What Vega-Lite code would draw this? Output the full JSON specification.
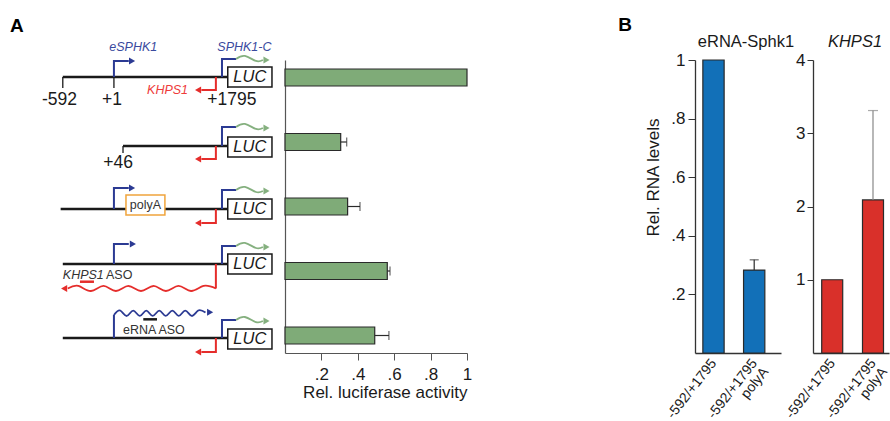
{
  "$schema": "https://vega.github.io/schema/vega-lite/v6.json",
  "padding": {"left": 10, "top": 16, "right": 0, "bottom": 0},
  "bounds": "flush",
  "spacing": 32,
  "config": {
    "font": "Liberation Sans",
    "view": {"stroke": null},
    "axis": {"grid": false, "labelColor": "#1a1a1a", "titleColor": "#1a1a1a", "labelFlush": false},
    "title": {"color": "#1a1a1a", "frame": "group"}
  },
  "datasets": {
    "hlines": [
      {"x": 0, "x2": 100, "y": 0.992, "c": "black"},
      {"x": 36.5, "x2": 100, "y": 2.062, "c": "black"},
      {"x": -1.3, "x2": 100, "y": 3.039, "c": "black"},
      {"x": 0, "x2": 100, "y": 3.891, "c": "black"},
      {"x": 0, "x2": 100, "y": 5.039, "c": "black"},
      {"x": 10.4, "x2": 18.9, "y": 4.166, "c": "red"},
      {"x": 48.8, "x2": 57.1, "y": 4.749, "c": "black"}
    ],
    "vticks": [
      {"x": 0, "y": 0.992, "y2": 1.163},
      {"x": 31, "y": 0.992, "y2": 1.163},
      {"x": 100, "y": 0.992, "y2": 1.163},
      {"x": 36.5, "y": 2.062, "y2": 2.171}
    ],
    "paths": [
      {"id": "b1", "o": 1, "x": 31, "y": 0.992, "c": "blue"},
      {"id": "b1", "o": 2, "x": 31, "y": 0.744, "c": "blue"},
      {"id": "b1", "o": 3, "x": 40, "y": 0.744, "c": "blue"},
      {"id": "s1", "o": 1, "x": 96.5, "y": 0.992, "c": "blue"},
      {"id": "s1", "o": 2, "x": 96.5, "y": 0.713, "c": "blue"},
      {"id": "s1", "o": 3, "x": 105, "y": 0.713, "c": "blue"},
      {"id": "k1", "o": 1, "x": 92.8, "y": 0.992, "c": "red"},
      {"id": "k1", "o": 2, "x": 92.8, "y": 1.194, "c": "red"},
      {"id": "k1", "o": 3, "x": 84, "y": 1.194, "c": "red"},
      {"id": "s2", "o": 1, "x": 96.5, "y": 2.062, "c": "blue"},
      {"id": "s2", "o": 2, "x": 96.5, "y": 1.767, "c": "blue"},
      {"id": "s2", "o": 3, "x": 105, "y": 1.767, "c": "blue"},
      {"id": "k2", "o": 1, "x": 92.8, "y": 2.062, "c": "red"},
      {"id": "k2", "o": 2, "x": 92.8, "y": 2.264, "c": "red"},
      {"id": "k2", "o": 3, "x": 84, "y": 2.264, "c": "red"},
      {"id": "b3", "o": 1, "x": 31, "y": 3.039, "c": "blue"},
      {"id": "b3", "o": 2, "x": 31, "y": 2.713, "c": "blue"},
      {"id": "b3", "o": 3, "x": 40, "y": 2.713, "c": "blue"},
      {"id": "s3", "o": 1, "x": 96.5, "y": 3.039, "c": "blue"},
      {"id": "s3", "o": 2, "x": 96.5, "y": 2.744, "c": "blue"},
      {"id": "s3", "o": 3, "x": 105, "y": 2.744, "c": "blue"},
      {"id": "k3", "o": 1, "x": 92.8, "y": 3.039, "c": "red"},
      {"id": "k3", "o": 2, "x": 92.8, "y": 3.256, "c": "red"},
      {"id": "k3", "o": 3, "x": 84, "y": 3.256, "c": "red"},
      {"id": "b4", "o": 1, "x": 31, "y": 3.891, "c": "blue"},
      {"id": "b4", "o": 2, "x": 31, "y": 3.581, "c": "blue"},
      {"id": "b4", "o": 3, "x": 40, "y": 3.581, "c": "blue"},
      {"id": "s4", "o": 1, "x": 96.5, "y": 3.891, "c": "blue"},
      {"id": "s4", "o": 2, "x": 96.5, "y": 3.612, "c": "blue"},
      {"id": "s4", "o": 3, "x": 105, "y": 3.612, "c": "blue"},
      {"id": "k4", "o": 1, "x": 92.8, "y": 3.891, "c": "red"},
      {"id": "k4", "o": 2, "x": 92.8, "y": 4.271, "c": "red"},
      {"id": "b5", "o": 1, "x": 31, "y": 5.039, "c": "blue"},
      {"id": "b5", "o": 2, "x": 31, "y": 4.682, "c": "blue"},
      {"id": "s5", "o": 1, "x": 96.5, "y": 5.039, "c": "blue"},
      {"id": "s5", "o": 2, "x": 96.5, "y": 4.76, "c": "blue"},
      {"id": "s5", "o": 3, "x": 105, "y": 4.76, "c": "blue"},
      {"id": "k5", "o": 1, "x": 92.8, "y": 5.039, "c": "red"},
      {"id": "k5", "o": 2, "x": 92.8, "y": 5.256, "c": "red"},
      {"id": "k5", "o": 3, "x": 84, "y": 5.256, "c": "red"}
    ],
    "waves": [
      {"id": "g1", "o": 1, "x": 105, "y": 0.713, "c": "green"},
      {"id": "g1", "o": 2, "x": 110.4, "y": 0.666, "c": "green"},
      {"id": "g1", "o": 3, "x": 117.1, "y": 0.744, "c": "green"},
      {"id": "g1", "o": 4, "x": 121.3, "y": 0.729, "c": "green"},
      {"id": "g2", "o": 1, "x": 105, "y": 1.767, "c": "green"},
      {"id": "g2", "o": 2, "x": 110.4, "y": 1.72, "c": "green"},
      {"id": "g2", "o": 3, "x": 117.1, "y": 1.798, "c": "green"},
      {"id": "g2", "o": 4, "x": 121.3, "y": 1.783, "c": "green"},
      {"id": "g3", "o": 1, "x": 105, "y": 2.744, "c": "green"},
      {"id": "g3", "o": 2, "x": 110.4, "y": 2.697, "c": "green"},
      {"id": "g3", "o": 3, "x": 117.1, "y": 2.775, "c": "green"},
      {"id": "g3", "o": 4, "x": 121.3, "y": 2.76, "c": "green"},
      {"id": "g4", "o": 1, "x": 105, "y": 3.612, "c": "green"},
      {"id": "g4", "o": 2, "x": 110.4, "y": 3.565, "c": "green"},
      {"id": "g4", "o": 3, "x": 117.1, "y": 3.643, "c": "green"},
      {"id": "g4", "o": 4, "x": 121.3, "y": 3.628, "c": "green"},
      {"id": "g5", "o": 1, "x": 105, "y": 4.76, "c": "green"},
      {"id": "g5", "o": 2, "x": 110.4, "y": 4.713, "c": "green"},
      {"id": "g5", "o": 3, "x": 117.1, "y": 4.791, "c": "green"},
      {"id": "g5", "o": 4, "x": 121.3, "y": 4.776, "c": "green"},
      {"id": "rw", "o": 1, "x": 92.8, "y": 4.271, "c": "red"},
      {"id": "rw", "o": 2, "x": 85.3, "y": 4.232, "c": "red"},
      {"id": "rw", "o": 3, "x": 77.7, "y": 4.31, "c": "red"},
      {"id": "rw", "o": 4, "x": 70.1, "y": 4.232, "c": "red"},
      {"id": "rw", "o": 5, "x": 62.5, "y": 4.31, "c": "red"},
      {"id": "rw", "o": 6, "x": 55.0, "y": 4.232, "c": "red"},
      {"id": "rw", "o": 7, "x": 47.4, "y": 4.31, "c": "red"},
      {"id": "rw", "o": 8, "x": 39.8, "y": 4.232, "c": "red"},
      {"id": "rw", "o": 9, "x": 32.2, "y": 4.31, "c": "red"},
      {"id": "rw", "o": 10, "x": 24.7, "y": 4.232, "c": "red"},
      {"id": "rw", "o": 11, "x": 17.1, "y": 4.31, "c": "red"},
      {"id": "rw", "o": 12, "x": 9.5, "y": 4.232, "c": "red"},
      {"id": "rw", "o": 13, "x": 3.0, "y": 4.271, "c": "red"},
      {"id": "bw", "o": 1, "x": 31, "y": 4.682, "c": "blue"},
      {"id": "bw", "o": 2, "x": 34.8, "y": 4.613, "c": "blue"},
      {"id": "bw", "o": 3, "x": 38.8, "y": 4.697, "c": "blue"},
      {"id": "bw", "o": 4, "x": 42.7, "y": 4.613, "c": "blue"},
      {"id": "bw", "o": 5, "x": 46.7, "y": 4.697, "c": "blue"},
      {"id": "bw", "o": 6, "x": 50.6, "y": 4.613, "c": "blue"},
      {"id": "bw", "o": 7, "x": 54.5, "y": 4.697, "c": "blue"},
      {"id": "bw", "o": 8, "x": 58.5, "y": 4.613, "c": "blue"},
      {"id": "bw", "o": 9, "x": 62.4, "y": 4.697, "c": "blue"},
      {"id": "bw", "o": 10, "x": 66.4, "y": 4.613, "c": "blue"},
      {"id": "bw", "o": 11, "x": 70.3, "y": 4.697, "c": "blue"},
      {"id": "bw", "o": 12, "x": 74.2, "y": 4.613, "c": "blue"},
      {"id": "bw", "o": 13, "x": 78.2, "y": 4.697, "c": "blue"},
      {"id": "bw", "o": 14, "x": 82.1, "y": 4.613, "c": "blue"},
      {"id": "bw", "o": 15, "x": 86.5, "y": 4.645, "c": "blue"}
    ],
    "heads": [
      {"x": 42, "y": 0.744, "c": "blue", "dir": "right"},
      {"x": 42, "y": 2.713, "c": "blue", "dir": "right"},
      {"x": 42.5, "y": 3.581, "c": "blue", "dir": "right"},
      {"x": 89.3, "y": 4.64, "c": "blue", "dir": "right"},
      {"x": 123.5, "y": 0.729, "c": "green", "dir": "right"},
      {"x": 123.5, "y": 1.783, "c": "green", "dir": "right"},
      {"x": 123.5, "y": 2.76, "c": "green", "dir": "right"},
      {"x": 123.5, "y": 3.628, "c": "green", "dir": "right"},
      {"x": 123.5, "y": 4.776, "c": "green", "dir": "right"},
      {"x": 82, "y": 1.194, "c": "red", "dir": "left"},
      {"x": 82, "y": 2.264, "c": "red", "dir": "left"},
      {"x": 82, "y": 3.256, "c": "red", "dir": "left"},
      {"x": 82, "y": 5.256, "c": "red", "dir": "left"},
      {"x": 0.8, "y": 4.271, "c": "red", "dir": "left"}
    ],
    "boxes": [
      {"x": 100, "x2": 126.8, "y": 0.837, "y2": 1.147, "c": "black"},
      {"x": 100, "x2": 126.8, "y": 1.922, "y2": 2.233, "c": "black"},
      {"x": 100, "x2": 126.8, "y": 2.884, "y2": 3.195, "c": "black"},
      {"x": 100, "x2": 126.8, "y": 3.736, "y2": 4.047, "c": "black"},
      {"x": 100, "x2": 126.8, "y": 4.899, "y2": 5.209, "c": "black"},
      {"x": 38.3, "x2": 61.9, "y": 2.822, "y2": 3.132, "c": "orange"}
    ],
    "coords": [
      {"x": -2, "y": 1.349, "t": "-592"},
      {"x": 29.8, "y": 1.349, "t": "+1"},
      {"x": 102.5, "y": 1.349, "t": "+1795"},
      {"x": 33.5, "y": 2.326, "t": "+46"}
    ],
    "geneblue": [
      {"x": 42.7, "y": 0.527, "t": "eSPHK1"},
      {"x": 110.1, "y": 0.527, "t": "SPHK1-C"}
    ],
    "genered": [
      {"x": 63.5, "y": 1.194, "t": "KHPS1"}
    ],
    "luclabels": [
      {"x": 113.4, "y": 0.992, "t": "LUC"},
      {"x": 113.4, "y": 2.078, "t": "LUC"},
      {"x": 113.4, "y": 3.039, "t": "LUC"},
      {"x": 113.4, "y": 3.891, "t": "LUC"},
      {"x": 113.4, "y": 5.054, "t": "LUC"}
    ],
    "centerlabels": [
      {"x": 50.1, "y": 2.977, "t": "polyA"}
    ],
    "leftlabels": [
      {"x": 26.2, "y": 4.062, "t": "ASO"},
      {"x": 36.5, "y": 4.915, "t": "eRNA ASO"}
    ],
    "italiclabels": [
      {"x": 0, "y": 4.062, "t": "KHPS1"}
    ],
    "luc": [
      {"construct": "-592/+1795", "value": 1.0, "hi": null},
      {"construct": "+46/+1795", "value": 0.306, "hi": 0.339},
      {"construct": "-592/+1795 polyA", "value": 0.344, "hi": 0.412},
      {"construct": "KHPS1 ASO", "value": 0.562, "hi": 0.577},
      {"construct": "eRNA ASO", "value": 0.493, "hi": 0.571}
    ],
    "erna": [
      {"sample": "-592/+1795", "value": 1.0, "hi": null},
      {"sample": "-592/+1795|polyA", "value": 0.283, "hi": 0.318}
    ],
    "khps1": [
      {"sample": "-592/+1795", "value": 1.0, "hi": null},
      {"sample": "-592/+1795|polyA", "value": 2.09, "hi": 3.31}
    ]
  },
  "hconcat": [
    {
      "width": 243,
      "height": 293,
      "title": {"text": "A", "anchor": "start", "frame": "group", "fontSize": 19, "fontWeight": "bold", "offset": 5, "color": "#000000"},
      "encoding": {
        "x": {"field": "x", "type": "quantitative", "scale": {"domain": [-32, 115.3], "nice": false, "zero": false}, "axis": null},
        "y": {"field": "y", "type": "quantitative", "scale": {"domain": [0.729, 5.271], "reverse": true, "nice": false, "zero": false}, "axis": null}
      },
      "layer": [
        {
          "data": {"name": "hlines"},
          "mark": {"type": "rule", "strokeWidth": 2.5},
          "encoding": {
            "x2": {"field": "x2"},
            "color": {"field": "c", "type": "nominal", "scale": {"domain": ["black", "blue", "red", "green"], "range": ["#1a1a1a", "#2b3a93", "#e52d2b", "#85b07f"]}, "legend": null}
          }
        },
        {
          "data": {"name": "vticks"},
          "mark": {"type": "rule", "strokeWidth": 1.3, "color": "#1a1a1a"},
          "encoding": {"y2": {"field": "y2"}}
        },
        {
          "data": {"name": "paths"},
          "mark": {"type": "line", "strokeWidth": 2, "strokeJoin": "miter", "strokeCap": "butt"},
          "encoding": {
            "detail": {"field": "id"},
            "order": {"field": "o", "type": "quantitative"},
            "color": {"field": "c", "type": "nominal", "scale": {"domain": ["black", "blue", "red", "green"], "range": ["#1a1a1a", "#2b3a93", "#e52d2b", "#85b07f"]}, "legend": null}
          }
        },
        {
          "data": {"name": "waves"},
          "mark": {"type": "line", "strokeWidth": 1.8, "interpolate": "natural"},
          "encoding": {
            "detail": {"field": "id"},
            "order": {"field": "o", "type": "quantitative"},
            "color": {"field": "c", "type": "nominal", "scale": {"domain": ["black", "blue", "red", "green"], "range": ["#1a1a1a", "#2b3a93", "#e52d2b", "#85b07f"]}, "legend": null}
          }
        },
        {
          "data": {"name": "heads"},
          "mark": {"type": "point", "filled": true, "opacity": 1, "size": 50},
          "encoding": {
            "shape": {"field": "dir", "type": "nominal", "scale": {"domain": ["right", "left"], "range": ["triangle-right", "triangle-left"]}, "legend": null},
            "color": {"field": "c", "type": "nominal", "scale": {"domain": ["black", "blue", "red", "green"], "range": ["#1a1a1a", "#2b3a93", "#e52d2b", "#85b07f"]}, "legend": null}
          }
        },
        {
          "data": {"name": "boxes"},
          "mark": {"type": "rect", "fill": "white", "strokeWidth": 1.5},
          "encoding": {
            "x2": {"field": "x2"},
            "y2": {"field": "y2"},
            "stroke": {"field": "c", "type": "nominal", "scale": {"domain": ["black", "orange"], "range": ["#1a1a1a", "#f0a43c"]}, "legend": null}
          }
        },
        {
          "data": {"name": "coords"},
          "mark": {"type": "text", "fontSize": 17.5, "align": "center", "baseline": "middle", "color": "#1a1a1a"},
          "encoding": {"text": {"field": "t"}}
        },
        {
          "data": {"name": "geneblue"},
          "mark": {"type": "text", "fontSize": 12.5, "fontStyle": "italic", "align": "center", "baseline": "middle", "color": "#3a4a9e"},
          "encoding": {"text": {"field": "t"}}
        },
        {
          "data": {"name": "genered"},
          "mark": {"type": "text", "fontSize": 12.5, "fontStyle": "italic", "align": "center", "baseline": "middle", "color": "#ee3b3b"},
          "encoding": {"text": {"field": "t"}}
        },
        {
          "data": {"name": "luclabels"},
          "mark": {"type": "text", "fontSize": 16.5, "fontStyle": "italic", "align": "center", "baseline": "middle", "color": "#1a1a1a"},
          "encoding": {"text": {"field": "t"}}
        },
        {
          "data": {"name": "centerlabels"},
          "mark": {"type": "text", "fontSize": 12.5, "align": "center", "baseline": "middle", "color": "#333333"},
          "encoding": {"text": {"field": "t"}}
        },
        {
          "data": {"name": "leftlabels"},
          "mark": {"type": "text", "fontSize": 12.5, "align": "left", "baseline": "middle", "color": "#333333"},
          "encoding": {"text": {"field": "t"}}
        },
        {
          "data": {"name": "italiclabels"},
          "mark": {"type": "text", "fontSize": 12.5, "fontStyle": "italic", "align": "left", "baseline": "middle", "color": "#333333"},
          "encoding": {"text": {"field": "t"}}
        }
      ]
    },
    {
      "width": 182,
      "height": 293,
      "data": {"name": "luc"},
      "encoding": {
        "y": {"field": "construct", "type": "nominal", "sort": null, "scale": {"paddingInner": 0.7364, "paddingOuter": 0.1395}, "axis": {"title": null, "labels": false, "ticks": false, "domainColor": "#555555", "domainWidth": 1.2}}
      },
      "layer": [
        {
          "mark": {"type": "bar", "fill": "#7fab78", "stroke": "#2a2a2a", "strokeWidth": 1.2},
          "encoding": {
            "x": {"field": "value", "type": "quantitative", "scale": {"domain": [0, 1], "nice": false},
              "axis": {"title": "Rel. luciferase activity", "values": [0.2, 0.4, 0.6, 0.8, 1], "labelExpr": "datum.value == 1 ? '1' : replace(format(datum.value, '.1f'), '0.', '.')", "tickSize": 7, "labelPadding": 6, "labelFontSize": 17, "titleFontSize": 17, "titleFontWeight": "normal", "titlePadding": 2, "titleAnchor": "end", "domainColor": "#555555", "tickColor": "#555555", "domainWidth": 1.2}}
          }
        },
        {
          "transform": [{"filter": "datum.hi != null"}],
          "mark": {"type": "rule", "color": "#2a2a2a", "strokeWidth": 1.2},
          "encoding": {"x": {"field": "value", "type": "quantitative", "scale": {"domain": [0, 1], "nice": false}}, "x2": {"field": "hi"}}
        },
        {
          "transform": [{"filter": "datum.hi != null"}],
          "mark": {"type": "tick", "color": "#2a2a2a", "thickness": 1.2, "size": 9},
          "encoding": {"x": {"field": "hi", "type": "quantitative", "scale": {"domain": [0, 1], "nice": false}}}
        }
      ]
    },
    {
      "width": 164,
      "height": 293,
      "title": {"text": "B", "anchor": "end", "frame": "group", "fontSize": 19, "fontWeight": "bold", "offset": 25, "dx": -31, "color": "#000000"},
      "data": {"values": [{"k": 0}]},
      "mark": {"type": "point", "opacity": 0},
      "encoding": {}
    },
    {
      "width": 86,
      "height": 293,
      "title": {"text": "eRNA-Sphk1", "frame": "group", "fontSize": 16.5, "fontWeight": "normal", "offset": 1, "dx": 8},
      "data": {"name": "erna"},
      "encoding": {
        "x": {"field": "sample", "type": "nominal", "sort": null, "scale": {"paddingInner": 0.477, "paddingOuter": 0.295, "align": 0.327},
          "axis": {"title": null, "labelAngle": -52, "labelAlign": "right", "labelBaseline": "top", "labelOffset": -5, "ticks": false, "labelPadding": 3, "labelFontSize": 14, "labelLineHeight": 14, "labelExpr": "indexof(datum.label, '|') > 0 ? [split(datum.label, '|')[0], split(datum.label, '|')[1] + '\u00a0\u00a0\u00a0\u00a0\u00a0'] : datum.label", "domainColor": "#333333", "domainWidth": 1.3}}
      },
      "layer": [
        {
          "mark": {"type": "bar", "fill": "#1270b8", "stroke": "#2a2a2a", "strokeWidth": 1.2},
          "encoding": {
            "y": {"field": "value", "type": "quantitative", "scale": {"domain": [0, 1], "nice": false},
              "axis": {"title": "Rel. RNA levels", "values": [0.2, 0.4, 0.6, 0.8, 1], "labelExpr": "datum.value == 1 ? '1' : replace(format(datum.value, '.1f'), '0.', '.')", "tickSize": 7, "labelPadding": 3, "labelFontSize": 17, "titleFontSize": 17, "titleFontWeight": "normal", "titlePadding": 8, "titleY": 117, "domainColor": "#333333", "tickColor": "#333333", "domainWidth": 1.3}}
          }
        },
        {
          "transform": [{"filter": "datum.hi != null"}],
          "mark": {"type": "rule", "color": "#2a2a2a", "strokeWidth": 1.2},
          "encoding": {"y": {"field": "value", "type": "quantitative", "scale": {"domain": [0, 1], "nice": false}}, "y2": {"field": "hi"}}
        },
        {
          "transform": [{"filter": "datum.hi != null"}],
          "mark": {"type": "tick", "color": "#2a2a2a", "thickness": 1.2, "size": 9},
          "encoding": {"y": {"field": "hi", "type": "quantitative", "scale": {"domain": [0, 1], "nice": false}}}
        }
      ]
    },
    {
      "width": 76,
      "height": 293,
      "title": {"text": "KHPS1", "frame": "group", "fontSize": 16.5, "fontWeight": "normal", "fontStyle": "italic", "offset": 1, "dx": 4},
      "data": {"name": "khps1"},
      "encoding": {
        "x": {"field": "sample", "type": "nominal", "sort": null, "scale": {"paddingInner": 0.485, "paddingOuter": 0.174, "align": 0.613},
          "axis": {"title": null, "labelAngle": -52, "labelAlign": "right", "labelBaseline": "top", "labelOffset": -5, "ticks": false, "labelPadding": 3, "labelFontSize": 14, "labelLineHeight": 14, "labelExpr": "indexof(datum.label, '|') > 0 ? [split(datum.label, '|')[0], split(datum.label, '|')[1] + '\u00a0\u00a0\u00a0\u00a0\u00a0'] : datum.label", "domainColor": "#333333", "domainWidth": 1.3}}
      },
      "layer": [
        {
          "mark": {"type": "bar", "fill": "#d9302a", "stroke": "#2a2a2a", "strokeWidth": 1.2},
          "encoding": {
            "y": {"field": "value", "type": "quantitative", "scale": {"domain": [0, 4], "nice": false},
              "axis": {"title": null, "values": [1, 2, 3, 4], "format": "d", "tickSize": 6, "labelPadding": 2, "labelFontSize": 17, "domainColor": "#333333", "tickColor": "#333333", "domainWidth": 1.3}}
          }
        },
        {
          "transform": [{"filter": "datum.hi != null"}],
          "mark": {"type": "rule", "color": "#888888", "strokeWidth": 1.2},
          "encoding": {"y": {"field": "value", "type": "quantitative", "scale": {"domain": [0, 4], "nice": false}}, "y2": {"field": "hi"}}
        },
        {
          "transform": [{"filter": "datum.hi != null"}],
          "mark": {"type": "tick", "color": "#888888", "thickness": 1.2, "size": 10},
          "encoding": {"y": {"field": "hi", "type": "quantitative", "scale": {"domain": [0, 4], "nice": false}}}
        }
      ]
    }
  ]
}
